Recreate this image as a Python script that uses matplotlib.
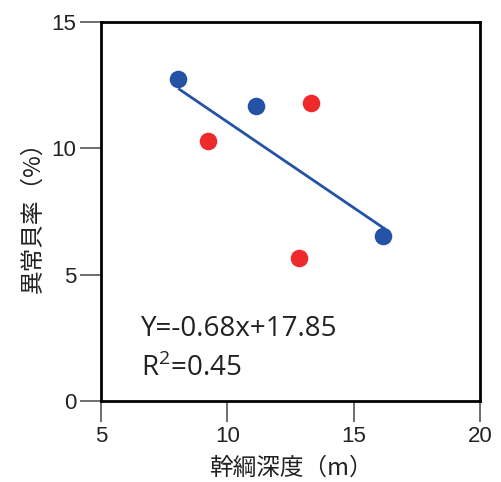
import matplotlib
matplotlib.use("Agg")
import matplotlib.pyplot as plt
import numpy as np

blue_x = [8.05, 11.15, 16.15]
blue_y = [12.75, 11.7, 6.55]
red_x = [9.25, 13.3, 12.85]
red_y = [10.3, 11.8, 5.65]
slope, intercept = -0.68, 17.85
fit_range = [8.1, 16.2]
eq_text = "Y=-0.68x+17.85"
r2_text = "R$^2$=0.45"
xticks = [5, 10, 15, 20]
yticks = [0, 5, 10, 15]

plt.rcParams['font.family'] = ['Noto Sans CJK JP', 'DejaVu Sans']
plt.rcParams['mathtext.fontset'] = 'custom'
plt.rcParams['mathtext.rm'] = 'Open Sans'

fig = plt.figure(figsize=(5.01, 4.82), dpi=100)
ax = fig.add_axes([0.2016, 0.168, 0.757, 0.786])

blue = '#2452A4'
red = '#EE2A2C'
fx = np.array(fit_range)
ax.plot(fx, slope * fx + intercept, color=blue, lw=2, zorder=2)
ax.scatter(blue_x, blue_y, s=160, color=blue, zorder=3, linewidths=0)
ax.scatter(red_x, red_y, s=160, color=red, zorder=3, linewidths=0)

ax.set_xlim(5, 20)
ax.set_ylim(0, 15)
ax.set_xticks(xticks)
ax.set_yticks(yticks)
for s in ax.spines.values():
    s.set_linewidth(2)
    s.set_color('black')
ax.tick_params(direction='out', length=15, width=1.2, color='#555555',
               labelsize=16, pad=3)
for lab in ax.get_xticklabels() + ax.get_yticklabels():
    lab.set_fontfamily(['Liberation Sans', 'DejaVu Sans'])
    lab.set_color('#222222')

ax.set_xlabel("幹綱深度（m）", fontsize=17, labelpad=7, color='#222222')
ax.set_ylabel("異常貝率（%）", fontsize=17, labelpad=5, color='#222222')

ax.text(0.105, 0.19, eq_text, transform=ax.transAxes, fontsize=20,
        family=['Open Sans', 'DejaVu Sans'], color='#222222', va='center')
ax.text(0.105, 0.087, r2_text, transform=ax.transAxes, fontsize=20,
        family=['Open Sans', 'DejaVu Sans'], color='#222222', va='center')

fig.savefig("out.png", dpi=100)
